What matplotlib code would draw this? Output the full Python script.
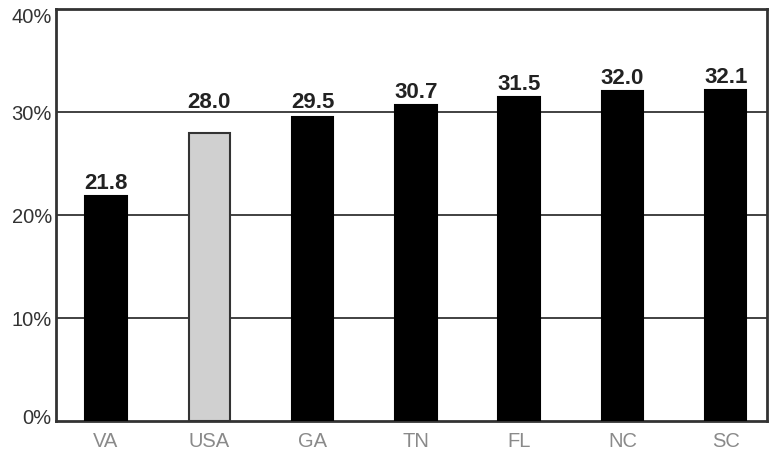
import matplotlib
matplotlib.use("Agg")
import matplotlib.pyplot as plt
from matplotlib.ticker import FuncFormatter
from matplotlib.transforms import ScaledTranslation

states = ["VA", "USA", "GA", "TN", "FL", "NC", "SC"]
values = [21.8, 28.0, 29.5, 30.7, 31.5, 32.0, 32.1]
y_ticks = [0, 10, 20, 30, 40]
grid_levels = [10, 20, 30]

plt.rcParams["font.family"] = ["Liberation Sans", "DejaVu Sans"]

fig = plt.figure(figsize=(7.75, 4.51), dpi=100)
ax = fig.add_axes([0.0723, 0.0665, 0.9174, 0.9135])

colors = ["#d0d0d0" if s == "USA" else "black" for s in states]
edges = ["#333333" if s == "USA" else "black" for s in states]
x = list(range(len(states)))
ax.bar(x, values, width=0.40, color=colors, edgecolor=edges, linewidth=1.5, zorder=3)

ax.set_xlim(-0.484, 6.40)
ax.set_ylim(0, 40)

# value labels sit a few pixels above each bar, lifted clear of a gridline they would cross
px = 40 / (0.9135 * 451)  # data units per pixel
gap = 7 * px
text_h = 16 * px
for xi, v in zip(x, values):
    base = v + gap
    for g in grid_levels:
        if base < g + 4.5 * px and base + text_h > g:
            base = max(base, g + 4.5 * px)
    ax.text(xi, base, f"{v:.1f}", ha="center", va="baseline",
            fontsize=16, fontweight="bold", color="#222222", zorder=4)

ax.set_yticks(y_ticks)
ax.yaxis.set_major_formatter(FuncFormatter(lambda v, _: f"{v:.0f}%"))
ax.set_xticks(x)
ax.set_xticklabels(states)
ax.tick_params(axis="both", length=0, labelsize=14.5)
ax.tick_params(axis="x", colors="#8a8a8a", pad=8)
ax.tick_params(axis="y", colors="#333333", pad=3)

# keep the end labels of the y axis inside the figure
ylabels = ax.get_yticklabels()
ylabels[-1].set_transform(ylabels[-1].get_transform() + ScaledTranslation(0, -6 / 100, fig.dpi_scale_trans))
ylabels[0].set_transform(ylabels[0].get_transform() + ScaledTranslation(0, 4.5 / 100, fig.dpi_scale_trans))

for t in grid_levels:
    ax.axhline(t, color="#333333", linewidth=1.3, zorder=1)

for sp in ax.spines.values():
    sp.set_color("#333333")
    sp.set_linewidth(2)

fig.savefig("out.png", dpi=100)
